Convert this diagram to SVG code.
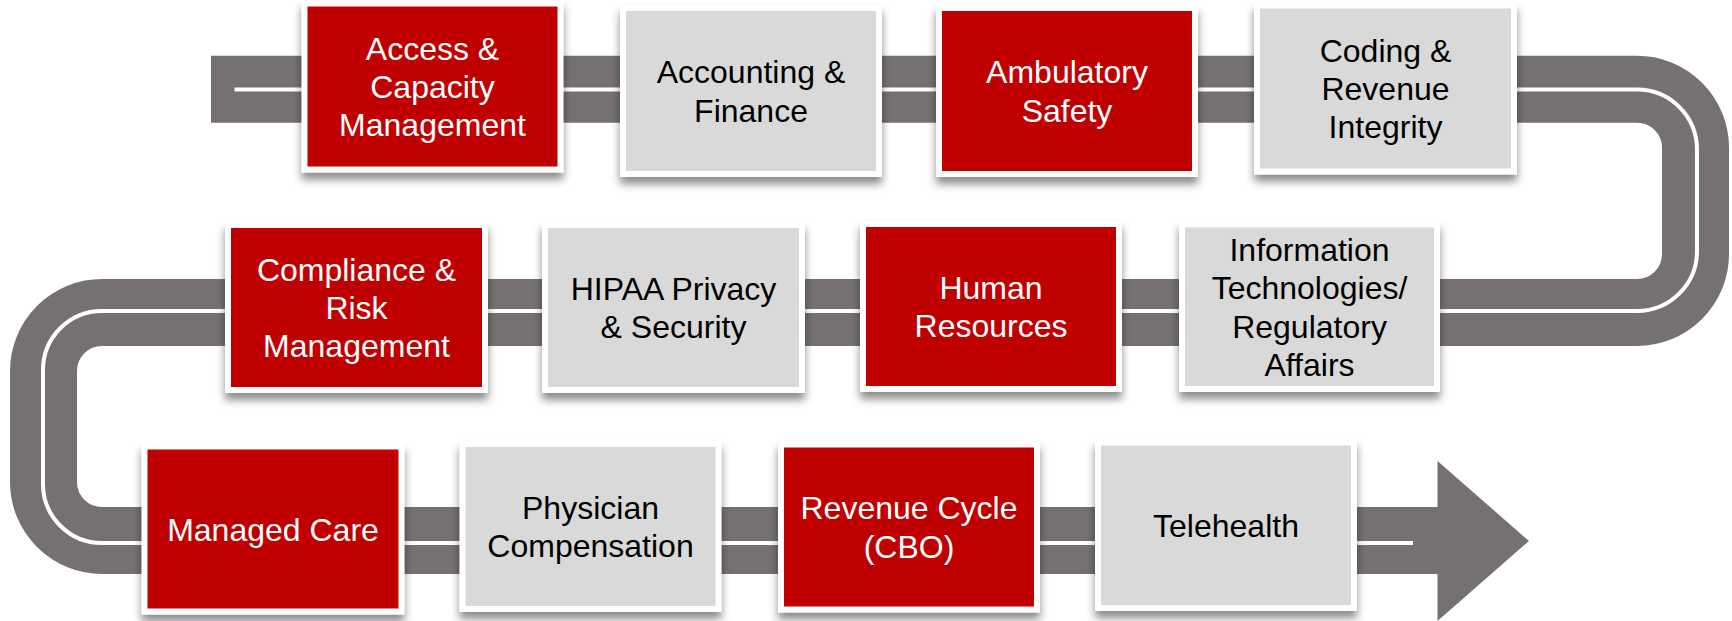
<svg xmlns="http://www.w3.org/2000/svg" width="1732" height="621" viewBox="0 0 1732 621">
<defs>
<filter id="sh" x="-10%" y="-10%" width="120%" height="130%">
<feDropShadow dx="0" dy="7" stdDeviation="4" flood-color="#000" flood-opacity="0.45"/>
</filter>
</defs>
<style>
.frame{fill:#FFFFFF;filter:url(#sh)}
.red{fill:#C00000}
.gray{fill:#D9D9D9}
text{font-family:"Liberation Sans",Arial,sans-serif;font-size:32px;text-anchor:middle}
.wt{fill:#FFFFFF}
.bt{fill:#000000}
.road{fill:none;stroke:#767171;stroke-width:67}
.lane{fill:none;stroke:#FFFFFF;stroke-width:4}
</style>
<rect width="1732" height="621" fill="#FFFFFF"/>
<g id="connectors">
<path class="road" d="M 211 89.2 H 1637 A 58.5 58.5 0 0 1 1695.5 147.7 V 254 A 58.5 58.5 0 0 1 1637 312.5 H 102 A 58.5 58.5 0 0 0 43.5 371 V 482 A 58.5 58.5 0 0 0 102 540.5 H 1440"/>
<path class="lane" d="M 234.5 89.5 H 1637 A 60 60 0 0 1 1697 149.5 V 251 A 60 60 0 0 1 1637 311 H 102 A 59 59 0 0 0 43 370 V 484 A 59 59 0 0 0 102 543 H 1413"/>
<polygon points="1437.5,461 1529,541 1437.5,621" fill="#767171"/>
</g>
<g id="access">
<rect class="frame" x="301.5" y="0.5" width="262" height="172"/>
<rect class="red" x="307.5" y="6.5" width="250" height="160"/>
<text class="wt" x="432.5" y="59.6">Access &amp;</text>
<text class="wt" x="432.5" y="98">Capacity</text>
<text class="wt" x="432.5" y="136.4">Management</text>
</g>
<g id="accounting">
<rect class="frame" x="620" y="5" width="262" height="172"/>
<rect class="gray" x="626" y="11" width="250" height="160"/>
<text class="bt" x="751" y="83.3">Accounting &amp;</text>
<text class="bt" x="751" y="121.7">Finance</text>
</g>
<g id="ambulatory">
<rect class="frame" x="936" y="5" width="262" height="172"/>
<rect class="red" x="942" y="11" width="250" height="160"/>
<text class="wt" x="1067" y="83.3">Ambulatory</text>
<text class="wt" x="1067" y="121.7">Safety</text>
</g>
<g id="coding">
<rect class="frame" x="1254" y="2.5" width="263" height="172"/>
<rect class="gray" x="1260" y="8.5" width="251" height="160"/>
<text class="bt" x="1385.5" y="61.6">Coding &amp;</text>
<text class="bt" x="1385.5" y="100">Revenue</text>
<text class="bt" x="1385.5" y="138.4">Integrity</text>
</g>
<g id="compliance">
<rect class="frame" x="225" y="222" width="263" height="171"/>
<rect class="red" x="231" y="228" width="251" height="159"/>
<text class="wt" x="356.5" y="280.6">Compliance &amp;</text>
<text class="wt" x="356.5" y="319">Risk</text>
<text class="wt" x="356.5" y="357.4">Management</text>
</g>
<g id="hipaa">
<rect class="frame" x="542" y="222" width="263" height="171"/>
<rect class="gray" x="548" y="228" width="251" height="159"/>
<text class="bt" x="673.5" y="299.8">HIPAA Privacy</text>
<text class="bt" x="673.5" y="338.2">&amp; Security</text>
</g>
<g id="human">
<rect class="frame" x="860" y="221" width="262" height="171"/>
<rect class="red" x="866" y="227" width="250" height="159"/>
<text class="wt" x="991" y="298.8">Human</text>
<text class="wt" x="991" y="337.2">Resources</text>
</g>
<g id="infotech">
<rect class="frame" x="1179" y="221.5" width="261" height="170.5"/>
<rect class="gray" x="1185" y="227.5" width="249" height="158.5"/>
<text class="bt" x="1309.5" y="260.7">Information</text>
<text class="bt" x="1309.5" y="299.1">Technologies/</text>
<text class="bt" x="1309.5" y="337.5">Regulatory</text>
<text class="bt" x="1309.5" y="375.9">Affairs</text>
</g>
<g id="managed">
<rect class="frame" x="141.5" y="443.5" width="263" height="171"/>
<rect class="red" x="147.5" y="449.5" width="251" height="159"/>
<text class="wt" x="273" y="540.5">Managed Care</text>
</g>
<g id="physician">
<rect class="frame" x="459.5" y="441" width="262" height="171"/>
<rect class="gray" x="465.5" y="447" width="250" height="159"/>
<text class="bt" x="590.5" y="518.8">Physician</text>
<text class="bt" x="590.5" y="557.2">Compensation</text>
</g>
<g id="revenue">
<rect class="frame" x="778" y="441.5" width="262" height="171"/>
<rect class="red" x="784" y="447.5" width="250" height="159"/>
<text class="wt" x="909" y="519.3">Revenue Cycle</text>
<text class="wt" x="909" y="557.7">(CBO)</text>
</g>
<g id="telehealth">
<rect class="frame" x="1095" y="439.5" width="262" height="171.5"/>
<rect class="gray" x="1101" y="445.5" width="250" height="159.5"/>
<text class="bt" x="1226" y="536.75">Telehealth</text>
</g>
</svg>
